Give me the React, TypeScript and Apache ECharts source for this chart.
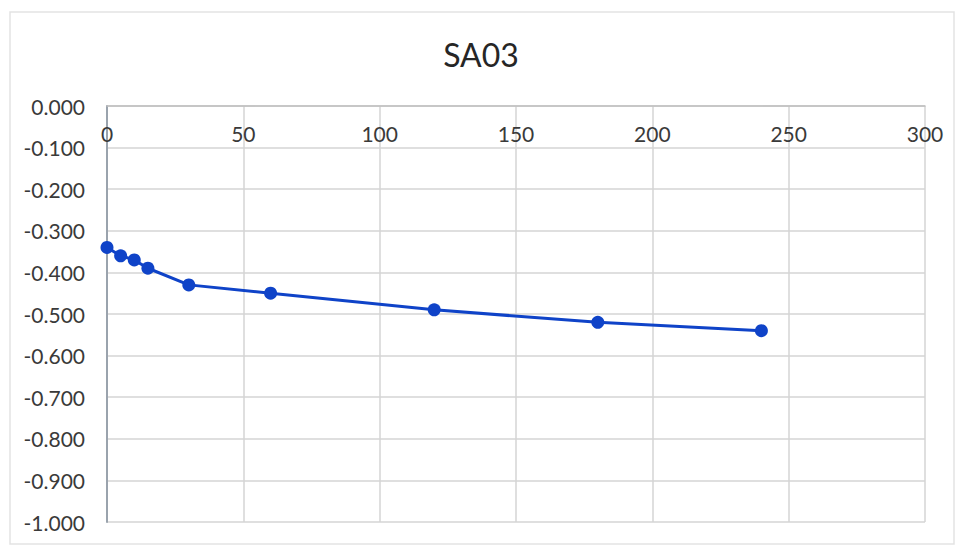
import React, { useEffect, useRef } from "react";
import * as echarts from "echarts";

const titleText = "SA03";
const timeValues = [0, 5, 10, 15, 30, 60, 120, 180, 240];
const seriesValues = [-0.34, -0.36, -0.37, -0.39, -0.43, -0.45, -0.49, -0.52, -0.54];

const FONT = "Lato, 'Open Sans', sans-serif";

export default function App() {
  const ref = useRef<HTMLDivElement>(null);
  useEffect(() => {
    if (!ref.current) return;
    const chart = echarts.init(ref.current, undefined, { renderer: "svg" });
    chart.setOption({
      animation: false,
      backgroundColor: "#ffffff",
      title: {
        text: titleText,
        left: "center",
        top: 33,
        textStyle: { fontFamily: FONT, fontSize: 32, fontWeight: "normal", color: "#262626" },
      },
      graphic: [
        {
          type: "rect",
          shape: { x: 10, y: 12, width: 944, height: 532 },
          style: { fill: "none", stroke: "#e3e3e3", lineWidth: 1.5 },
          silent: true,
        },
      ],
      grid: { left: 107, right: 37, top: 106, bottom: 26, containLabel: false },
      xAxis: {
        type: "value",
        position: "top",
        min: 0,
        max: 300,
        interval: 50,
        axisLine: { show: true, onZero: false, lineStyle: { color: "#bfbfbf", width: 1.5 } },
        axisTick: { show: false },
        axisLabel: {
          inside: true,
          margin: 17,
          fontFamily: FONT,
          fontSize: 21,
          color: "#3a3a3a",
        },
        splitLine: { show: true, lineStyle: { color: "#d5d5d5", width: 1.5 } },
      },
      yAxis: {
        type: "value",
        min: -1,
        max: 0,
        interval: 0.1,
        axisLine: { show: true, onZero: false, lineStyle: { color: "#9aa3ad", width: 2 } },
        axisTick: { show: false },
        axisLabel: {
          margin: 22,
          fontFamily: FONT,
          fontSize: 21,
          color: "#3a3a3a",
          formatter: (v: number) => v.toFixed(3),
        },
        splitLine: { show: true, lineStyle: { color: "#d5d5d5", width: 1.5 } },
      },
      series: [
        {
          type: "line",
          data: timeValues.map((t, i) => [t, seriesValues[i]]),
          symbol: "circle",
          symbolSize: 13,
          lineStyle: { color: "#0f43c8", width: 3 },
          itemStyle: { color: "#0f43c8" },
        },
      ],
    });
    return () => chart.dispose();
  }, []);
  return (
    <div
      ref={ref}
      style={{ position: "fixed", left: 0, top: 0, width: 962, height: 548 }}
    />
  );
}
